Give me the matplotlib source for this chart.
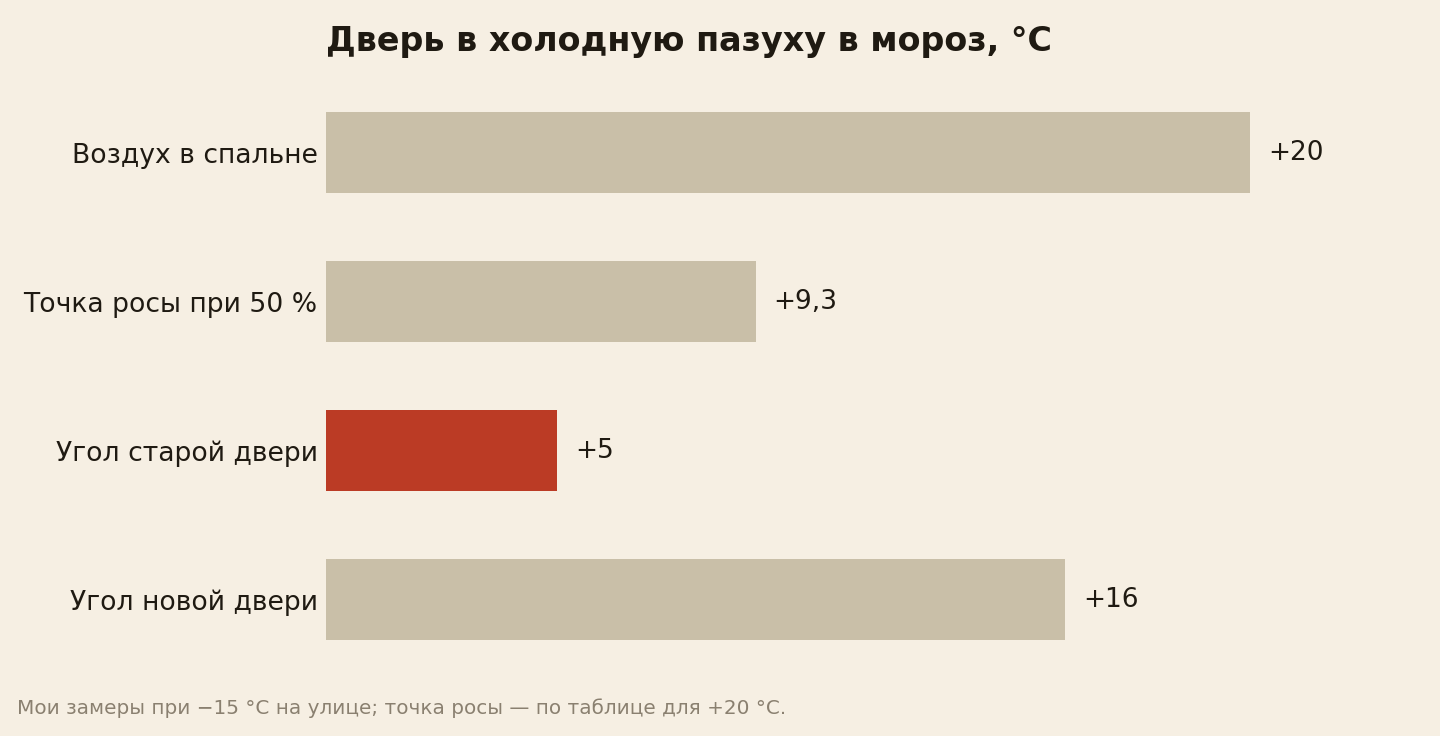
import matplotlib
matplotlib.use("Agg")
import matplotlib.pyplot as plt

# data
labels = ["Воздух в спальне", "Точка росы при 50 %", "Угол старой двери", "Угол новой двери"]
values = [20, 9.3, 5, 16]
value_text = ["+20", "+9,3", "+5", "+16"]
highlight = "Угол старой двери"

bg = "#f6efe3"
ink = "#1f1a12"
bar_col = "#c9bfa8"
red_col = "#bb3b25"

plt.rcParams['font.family'] = ['DejaVu Sans']

fig = plt.figure(figsize=(14.4, 7.36), dpi=100, facecolor=bg)
ax = fig.add_axes([0.22639, 0.08424, 0.72191, 0.80976])
ax.set_facecolor(bg)

ypos = list(range(len(labels)))
colors = [red_col if l == highlight else bar_col for l in labels]
ax.barh(ypos, values, height=0.545, color=colors)

for y, v, t in zip(ypos, values, value_text):
    ax.annotate(t, (v, y), xytext=(13, 0), textcoords="offset points",
                va="center", ha="left", fontsize=19, color=ink)

ax.set_xlim(0, 22.5)
ax.set_ylim(len(labels) - 0.5, -0.5)
ax.set_yticks(ypos)
ax.set_yticklabels(labels, fontsize=19.2, color=ink)
ax.tick_params(axis="y", length=0, pad=6)
ax.set_xticks([])
for s in ax.spines.values():
    s.set_visible(False)

fig.text(326 / 1440, 1 - 41 / 736, "Дверь в холодную пазуху в мороз, °C",
         fontsize=24, fontweight="bold", color=ink, ha="left", va="center")
fig.text(17 / 1440, 1 - 708 / 736, "Мои замеры при −15 °C на улице; точка росы — по таблице для +20 °C.",
         fontsize=14.4, color="#8a8070", ha="left", va="center")

fig.savefig("out.png", dpi=100, facecolor=bg)
